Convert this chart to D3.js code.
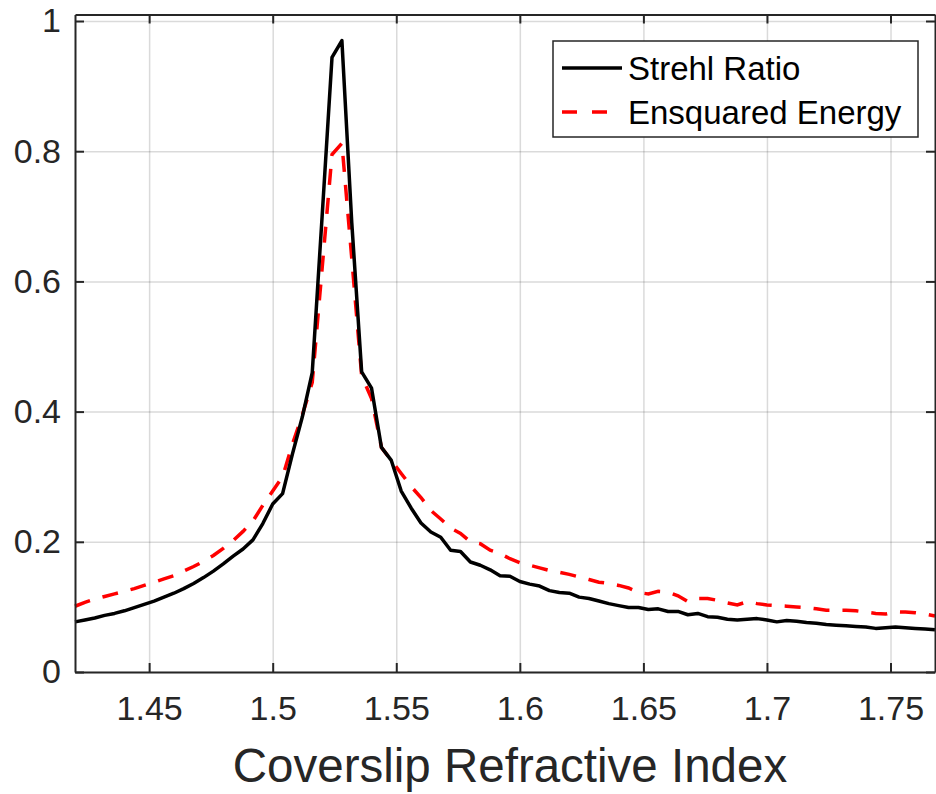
<!DOCTYPE html>
<html lang="en">
  <head>
    <meta charset="utf-8">
    <title>Strehl Ratio vs Coverslip Refractive Index</title>
    <script type="text/javascript" src="https://cdn.jsdelivr.net/npm/d3@7/dist/d3.min.js"></script>
    <style>
      body { margin: 0; background: #fff; }
      svg { display: block; font-family: "Liberation Sans", Arial, sans-serif; }
      .axis path, .axis line { stroke: #262626; }
      .axis text { fill: #262626; font-size: 34px; }
      .grid line { stroke: #262626; stroke-opacity: 0.17; stroke-width: 1.5; }
      .grid path { display: none; }
    </style>
  </head>
  <body>
    <script type="text/javascript">
      var w = 936;
      var h = 794;
      var plotLeft = 75, plotRight = 935, plotTop = 14.5, plotBottom = 672;

      // refractive index samples
      var index = [1.420,1.424,1.428,1.432,1.436,1.440,1.444,1.448,1.452,1.456,
                   1.460,1.464,1.468,1.472,1.476,1.480,1.484,1.488,1.492,1.496,
                   1.500,1.504,1.508,1.512,1.516,1.520,1.524,1.528,1.532,1.536,
                   1.540,1.544,1.548,1.552,1.556,1.560,1.564,1.568,1.572,1.576,
                   1.580,1.584,1.588,1.592,1.596,1.600,1.604,1.608,1.612,1.616,
                   1.620,1.624,1.628,1.632,1.636,1.640,1.644,1.648,1.652,1.656,
                   1.660,1.664,1.668,1.672,1.676,1.680,1.684,1.688,1.692,1.696,
                   1.700,1.704,1.708,1.712,1.716,1.720,1.724,1.728,1.732,1.736,
                   1.740,1.744,1.748,1.752,1.756,1.760,1.764,1.768];

      var strehl = [0.077,0.080,0.083,0.087,0.090,0.094,0.099,0.104,0.109,0.115,
                    0.121,0.128,0.136,0.145,0.155,0.166,0.178,0.189,0.203,0.228,
                    0.258,0.274,0.335,0.392,0.460,0.700,0.944,0.970,0.690,0.461,
                    0.436,0.345,0.325,0.278,0.252,0.229,0.215,0.207,0.187,0.185,
                    0.169,0.164,0.157,0.148,0.147,0.139,0.135,0.132,0.125,0.122,
                    0.121,0.115,0.113,0.109,0.105,0.102,0.099,0.099,0.096,0.097,
                    0.093,0.093,0.088,0.090,0.085,0.084,0.081,0.080,0.081,0.082,
                    0.080,0.077,0.079,0.078,0.076,0.075,0.073,0.072,0.071,0.070,
                    0.069,0.067,0.068,0.069,0.068,0.067,0.066,0.065];

      var ensquared = [0.101,0.107,0.112,0.116,0.120,0.124,0.128,0.133,0.138,0.143,
                       0.148,0.155,0.162,0.170,0.179,0.190,0.202,0.216,0.232,0.256,
                       0.278,0.300,0.350,0.395,0.445,0.620,0.795,0.812,0.635,0.455,
                       0.420,0.345,0.325,0.305,0.285,0.268,0.248,0.235,0.221,0.213,
                       0.200,0.197,0.187,0.182,0.174,0.168,0.164,0.160,0.156,0.153,
                       0.150,0.146,0.142,0.138,0.136,0.133,0.129,0.122,0.120,0.124,
                       0.123,0.117,0.108,0.113,0.113,0.110,0.106,0.103,0.108,0.105,
                       0.103,0.102,0.101,0.100,0.099,0.097,0.095,0.095,0.095,0.094,
                       0.092,0.090,0.089,0.0925,0.092,0.091,0.089,0.086];

      var xTicks = [1.45,1.5,1.55,1.6,1.65,1.7,1.75];
      var yTicks = [0,0.2,0.4,0.6,0.8,1];
      var seriesNames = ["Strehl Ratio","Ensquared Energy"];

      var svg = d3.select("body")
        .append("svg")
        .attr("width",w)
        .attr("height",h);

      var xScale = d3.scaleLinear()
          .domain([1.42,1.768])
          .range([plotLeft,plotRight]);
      var yScale = d3.scaleLinear()
          .domain([0,1.01])
          .range([plotBottom,plotTop]);

      // grid
      svg.append("g")
          .attr("class","grid")
          .attr("transform","translate(0," + plotBottom + ")")
          .call(d3.axisBottom(xScale).tickValues(xTicks).tickSize(-(plotBottom-plotTop)).tickFormat(""));
      svg.append("g")
          .attr("class","grid")
          .attr("transform","translate(" + plotLeft + ",0)")
          .call(d3.axisLeft(yScale).tickValues(yTicks).tickSize(-(plotRight-plotLeft)).tickFormat(""));

      // lines
      var line = function(vals) {
        return d3.line()
          .x(function(d, i) { return xScale(index[i]); })
          .y(function(d) { return yScale(d); })(vals);
      };
      svg.append("path")
          .attr("d",line(ensquared))
          .attr("fill","none")
          .attr("stroke","#ff0000")
          .attr("stroke-width",3.5)
          .attr("stroke-dasharray","16,13");
      svg.append("path")
          .attr("d",line(strehl))
          .attr("fill","none")
          .attr("stroke","#000")
          .attr("stroke-width",3.5)
          .attr("stroke-linejoin","round");

      // axes (box with inward ticks)
      var xAxis = d3.axisBottom(xScale).tickValues(xTicks).tickSizeInner(-9).tickSizeOuter(0)
          .tickPadding(24).tickFormat(function(d) { return String(d); });
      var yAxis = d3.axisLeft(yScale).tickValues(yTicks).tickSizeInner(-9).tickSizeOuter(0)
          .tickPadding(14).tickFormat(function(d) { return String(d); });

      svg.append("g").attr("class","axis")
          .attr("transform","translate(0," + plotBottom + ")")
          .call(xAxis);
      svg.append("g").attr("class","axis")
          .attr("transform","translate(0," + plotTop + ")")
          .call(d3.axisTop(xScale).tickValues(xTicks).tickSizeInner(-9).tickSizeOuter(0).tickFormat(""));
      svg.append("g").attr("class","axis")
          .attr("transform","translate(" + plotLeft + ",0)")
          .call(yAxis);
      svg.append("g").attr("class","axis")
          .attr("transform","translate(" + plotRight + ",0)")
          .call(d3.axisRight(yScale).tickValues(yTicks).tickSizeInner(-9).tickSizeOuter(0).tickFormat(""));
      svg.selectAll(".axis path").attr("stroke-width",2);
      svg.selectAll(".axis line").attr("stroke-width",2);

      // x label
      svg.append("text")
          .attr("x",(plotLeft+plotRight)/2 + 5)
          .attr("y",782)
          .attr("text-anchor","middle")
          .attr("fill","#262626")
          .style("font-size","47.5px")
          .text("Coverslip Refractive Index");

      // legend
      var legend = svg.append("g");
      legend.append("rect")
          .attr("x",553).attr("y",41)
          .attr("width",365).attr("height",96)
          .attr("fill","#fff")
          .attr("stroke","#262626")
          .attr("stroke-width",1.5);
      legend.append("line")
          .attr("x1",562).attr("x2",622).attr("y1",68).attr("y2",68)
          .attr("stroke","#000").attr("stroke-width",3.5);
      legend.append("line")
          .attr("x1",562).attr("x2",622).attr("y1",112).attr("y2",112)
          .attr("stroke","#ff0000").attr("stroke-width",3.5)
          .attr("stroke-dasharray","15,15");
      legend.selectAll("text")
          .data(seriesNames)
          .enter()
          .append("text")
          .attr("x",628)
          .attr("y",function(d, i) { return 80 + i*44; })
          .attr("fill","#000")
          .style("font-size","33px")
          .text(function(d) { return d; });
    </script>
  </body>
</html>
